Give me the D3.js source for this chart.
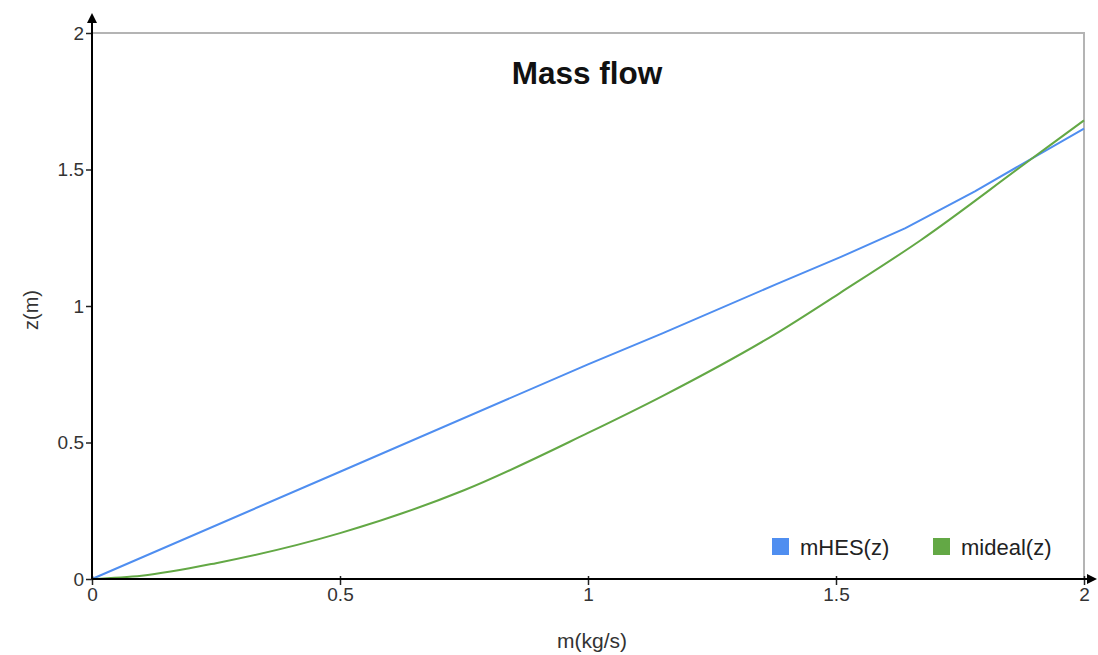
<!DOCTYPE html>
<meta charset="utf-8">
<script src="https://d3js.org/d3.v7.min.js"></script>
<style>
  body { margin: 0; background: #fff; }
  text { font-family: Arial, "Liberation Sans", sans-serif; }
</style>
<svg width="1098" height="655"></svg>
<script>
    // values
    const seriesNames = ["mHES(z)", "mideal(z)"];
    const seriesColors = ["#4f8ef0", "#63a845"];
    const hesM = [0, 0.5, 1, 1.15, 1.38, 1.51, 1.64, 1.78, 2];
    const hesZ = [0, 0.393, 0.786, 0.90, 1.08, 1.18, 1.285, 1.42, 1.65];
    const idealM = [0, 0.1, 0.25, 0.5, 0.75, 1, 1.15, 1.38, 1.51, 1.67, 1.88, 2];
    const idealZ = [0, 0.012, 0.058, 0.168, 0.325, 0.535, 0.67, 0.9, 1.05, 1.24, 1.52, 1.68];
    const xTicks = [0, 0.5, 1, 1.5, 2];
    const yTicks = [0, 0.5, 1, 1.5, 2];

    const margin = {top: 33, right: 14, bottom: 76, left: 92},
        width = 1098 - margin.left - margin.right,
        height = 655 - margin.top - margin.bottom;

    const svg = d3.select("svg");
    const g = svg.append("g")
        .attr("transform", "translate(" + margin.left + "," + margin.top + ")");

    const x = d3.scaleLinear().domain([0, 2]).range([0, width]);
    const y = d3.scaleLinear().domain([0, 2]).range([height, 0]);

    // top and right frame
    g.append("path")
        .attr("d", "M0,0H" + x(2) + "V" + y(0))
        .attr("fill", "none")
        .attr("stroke", "#b4b4b4")
        .attr("stroke-width", 2);

    // lines
    const line = d3.line().x(d => x(d[0])).y(d => y(d[1]));
    const series = [
        {name: seriesNames[0], pts: hesM.map((m, i) => [m, hesZ[i]]), curve: d3.curveLinear},
        {name: seriesNames[1], pts: idealM.map((m, i) => [m, idealZ[i]]), curve: d3.curveMonotoneX}
    ];
    g.selectAll(".series")
        .data(series)
        .enter()
        .append("path")
        .attr("fill", "none")
        .attr("stroke", (d, i) => seriesColors[i])
        .attr("stroke-width", 2)
        .attr("d", d => line.curve(d.curve)(d.pts));

    // axes
    const xAxis = g.append("g")
        .attr("transform", "translate(0," + height + ")")
        .call(d3.axisBottom(x).tickValues(xTicks).tickFormat(d3.format("")).tickSize(6).tickSizeOuter(0));
    const yAxis = g.append("g")
        .call(d3.axisLeft(y).tickValues(yTicks).tickFormat(d3.format("")).tickSize(6).tickSizeOuter(0));
    [xAxis, yAxis].forEach(a => {
        a.attr("font-size", 19).attr("font-family", null);
        a.select(".domain").remove();
        a.selectAll(".tick line").attr("stroke", "#222").attr("stroke-width", 1.5);
        a.selectAll(".tick text").attr("fill", "#333")
            .style("font-size", "19px")
            .style("font-family", "Arial, 'Liberation Sans', sans-serif");
    });
    xAxis.selectAll(".tick line").attr("y1", -3);
    xAxis.selectAll(".tick text").attr("y", 9);
    yAxis.selectAll(".tick text").attr("x", -8);
    yAxis.selectAll(".tick line").attr("x2", 0).attr("x1", -6);

    // axis lines with arrow heads
    g.append("line").attr("x1", 0).attr("y1", height).attr("x2", 0).attr("y2", -12)
        .attr("stroke", "#000").attr("stroke-width", 2);
    g.append("path").attr("d", "M-5,-10L0,-20L5,-10Z").attr("fill", "#000");
    g.append("line").attr("x1", 0).attr("y1", height).attr("x2", width + 4).attr("y2", height)
        .attr("stroke", "#000").attr("stroke-width", 2);
    g.append("path").attr("d", "M" + (width + 3) + "," + (height - 5) + "L" + (width + 13) + "," + height + "L" + (width + 3) + "," + (height + 5) + "Z")
        .attr("fill", "#000");

    // title
    svg.append("text")
        .attr("x", 587).attr("y", 84)
        .attr("text-anchor", "middle")
        .attr("font-size", 31.5).attr("font-weight", "bold").attr("fill", "#111")
        .text("Mass flow");

    // axis titles
    svg.append("text")
        .attr("x", 592).attr("y", 648)
        .attr("text-anchor", "middle")
        .attr("font-size", 21).attr("fill", "#333")
        .text("m(kg/s)");
    svg.append("text")
        .attr("transform", "translate(38,310) rotate(-90)")
        .attr("text-anchor", "middle")
        .attr("font-size", 20).attr("fill", "#333")
        .text("z(m)");

    // legend
    const legendX = [772, 933];
    const legend = svg.selectAll(".legend")
        .data(seriesNames)
        .enter()
        .append("g")
        .attr("transform", (d, i) => "translate(" + legendX[i] + ",538)");
    legend.append("rect")
        .attr("width", 17).attr("height", 17)
        .attr("fill", (d, i) => seriesColors[i]);
    legend.append("text")
        .attr("x", 28).attr("y", 17)
        .attr("font-size", 22).attr("fill", "#222")
        .text(d => d);
</script>
